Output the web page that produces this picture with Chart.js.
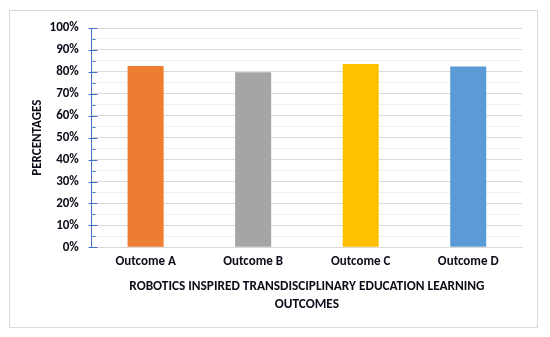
<!DOCTYPE html>
<html>
<head>
<meta charset="utf-8">
<script src="https://cdn.jsdelivr.net/npm/chart.js@4.4.0/dist/chart.umd.min.js"></script>
<style>
  html, body { margin: 0; padding: 0; background: #fff; }
  #wrap { position: relative; width: 550px; height: 337px; }
  #frame { position: absolute; left: 9px; top: 10px; width: 527px; height: 316px; border: 1px solid #d9d9d9; }
  canvas { position: absolute; left: 0; top: 0; }
</style>
</head>
<body>
<div id="wrap">
  <div id="frame"></div>
  <canvas id="outcomesChart" width="550" height="337"></canvas>
</div>
<script>
// data
const outcomeLabels = ['Outcome A', 'Outcome B', 'Outcome C', 'Outcome D'];
const outcomeValues = [82.7, 79.8, 83.6, 82.5];
const barColors = ['#ED7D31', '#A5A5A5', '#FFC000', '#5B9BD5'];
const xTitleLines = ['ROBOTICS INSPIRED TRANSDISCIPLINARY EDUCATION LEARNING', 'OUTCOMES'];
const yTitle = 'PERCENTAGES';

const fontFamily = 'Carlito, Lato, sans-serif';
const textColor = '#0d0d1a';
const axisBlue = '#4472C4';

// tick marks on the value axis: long crossing ones at 10%, short inner ones at 5%
const axisTicks = {
  id: 'axisTicks',
  afterDraw(chart) {
    const y = chart.scales.y;
    const x0 = Math.round(chart.chartArea.left) + 0.5;
    const ctx = chart.ctx;
    ctx.save();
    ctx.strokeStyle = axisBlue;
    ctx.lineWidth = 1;
    y.ticks.forEach(t => {
      const py = Math.round(y.getPixelForValue(t.value)) + 0.5;
      const major = t.value % 10 === 0;
      ctx.beginPath();
      ctx.moveTo(major ? x0 - 4 : x0, py);
      ctx.lineTo(major ? x0 + 5 : x0 + 3, py);
      ctx.stroke();
    });
    ctx.restore();
  }
};

const ctx = document.getElementById('outcomesChart').getContext('2d');

new Chart(ctx, {
  type: 'bar',
  data: {
    labels: outcomeLabels,
    datasets: [{
      data: outcomeValues,
      backgroundColor: barColors,
      borderWidth: 0,
      categoryPercentage: 1,
      barPercentage: 0.335
    }]
  },
  options: {
    responsive: false,
    animation: false,
    devicePixelRatio: 1,
    layout: { padding: { top: 28, right: 28, bottom: 24, left: 30 } },
    plugins: {
      legend: { display: false },
      tooltip: { enabled: false }
    },
    scales: {
      x: {
        grid: { display: false, drawTicks: false },
        border: { color: '#d9d9d9', width: 1 },
        ticks: {
          color: textColor,
          font: { family: fontFamily, size: 13, weight: 'bold' },
          padding: 7,
          maxRotation: 0
        },
        title: {
          display: true,
          text: xTitleLines,
          color: textColor,
          font: { family: fontFamily, size: 13.3, weight: 'bold', lineHeight: 1.32 },
          padding: { top: 1, bottom: 0 }
        }
      },
      y: {
        min: 0,
        max: 100,
        border: { color: axisBlue, width: 1 },
        grid: {
          color: c => (c.tick.value % 10 === 0 ? '#d9d9d9' : '#f0f0f0'),
          tickColor: 'rgba(0,0,0,0)',
          tickLength: 4,
          lineWidth: 1
        },
        ticks: {
          stepSize: 5,
          autoSkip: false,
          color: textColor,
          font: { family: fontFamily, size: 13, weight: 'bold' },
          padding: 9,
          callback: v => (v % 10 === 0 ? v + '%' : '')
        },
        title: {
          display: true,
          text: yTitle,
          color: textColor,
          font: { family: fontFamily, size: 13, weight: 'bold' },
          padding: { top: 0, bottom: -5 }
        }
      }
    }
  },
  plugins: [axisTicks]
});
</script>
</body>
</html>
